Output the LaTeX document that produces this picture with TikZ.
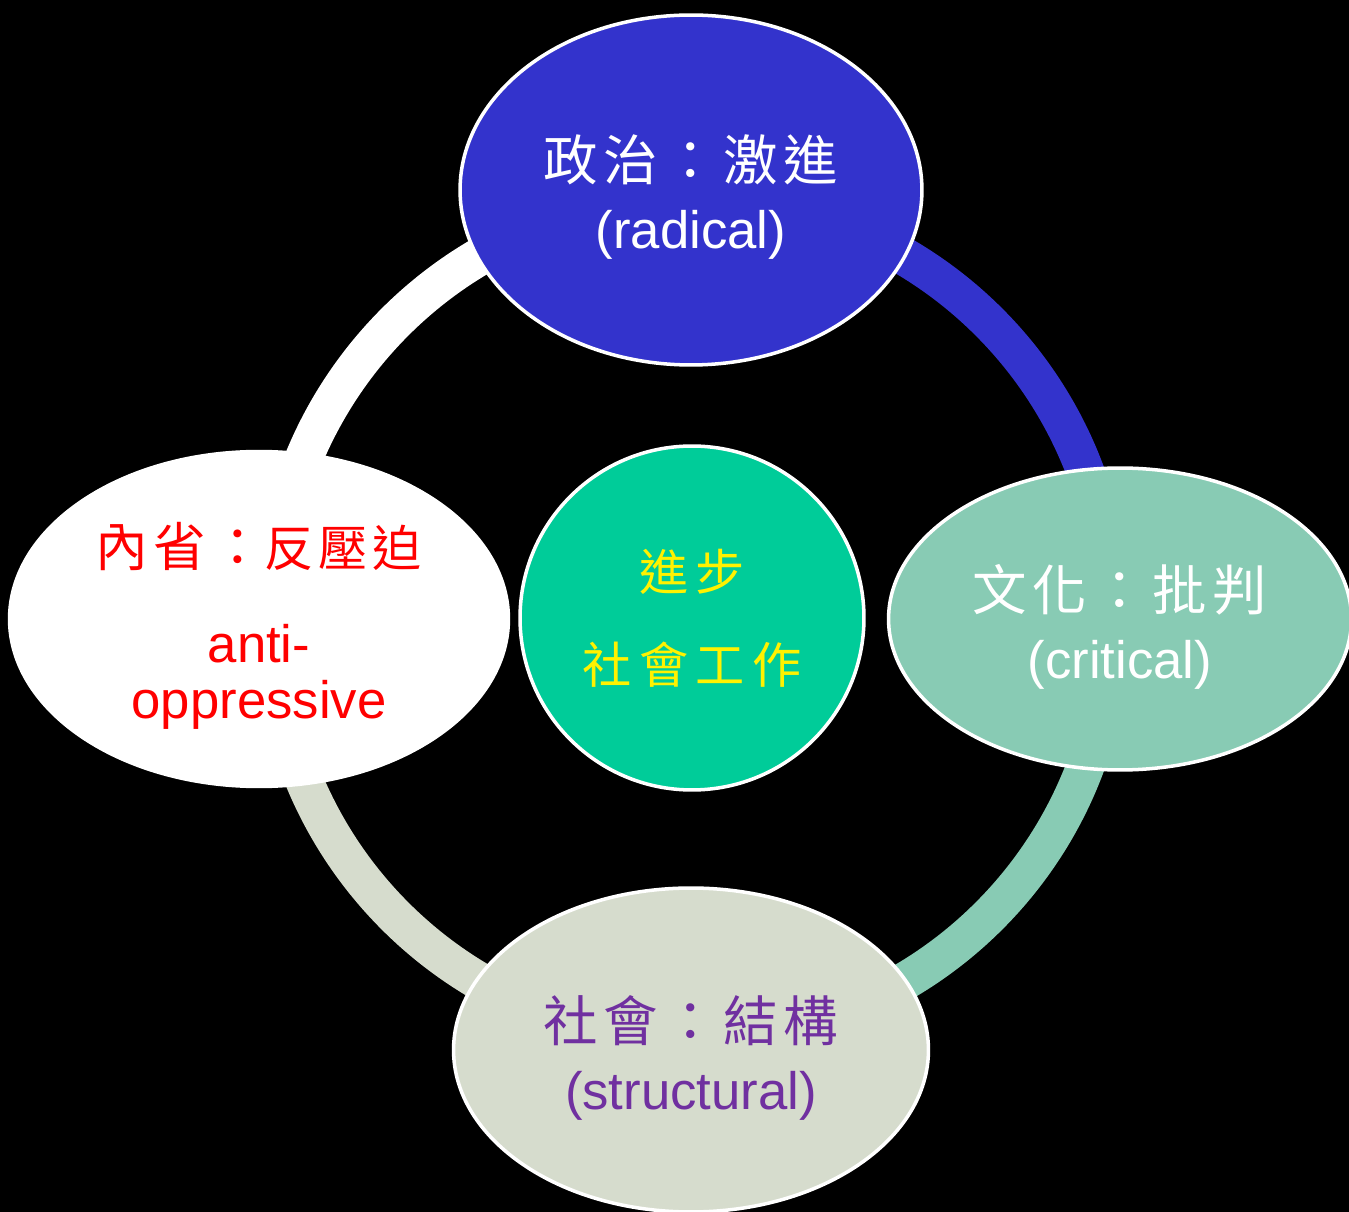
\documentclass[tikz,border=0pt]{standalone}
\usepackage{fontspec}
\setmainfont{Liberation Sans}
\newfontfamily\cjk[LetterSpace=10]{Noto Sans CJK TC}
\newfontfamily\cjkhub[LetterSpace=15]{Noto Sans CJK TC}
\usetikzlibrary{shapes.geometric}
\definecolor{polblue}{HTML}{3333CC}
\definecolor{culteal}{HTML}{88CBB4}
\definecolor{socgrey}{HTML}{D6DCCD}
\definecolor{coregreen}{HTML}{00CC99}
\definecolor{strpurple}{HTML}{7030A0}

\begin{document}
\begin{tikzpicture}[
		x=0.02cm, y=0.02cm,
		lens/.style = {draw=white, line width=2pt, ellipse, inner sep=0pt, align=center,
			font=\fontsize{30}{33}\selectfont},
		hubstyle/.style = {draw=white, line width=2pt, circle, inner sep=0pt, align=center,
			minimum size=6.88cm, fill=coregreen, text=yellow, font=\cjkhub\fontsize{28}{33}\selectfont},
		ring/.style = {line width=0.76cm},
		]
		\fill[black] (0,0) rectangle (1349,-1212);
		\useasboundingbox (0,0) rectangle (1349,-1212);
		\coordinate (ctr) at (692,-619);
		% ring behind the ellipses
		\foreach \a/\c in {90/polblue, 0/culteal, -90/socgrey, 180/white}
			\draw[ring, \c] (ctr) ++(\a:420) arc[start angle=\a, delta angle=-90, radius=8.4cm];
		\node[lens, fill=polblue, text=white, minimum width=9.24cm, minimum height=7cm] (pol) at (691,-190)
			{\rule{0pt}{34pt}{\cjk\fontsize{31}{33}\selectfont 政治：激進}\\[6pt](radical)};
		\node[lens, fill=culteal, text=white, minimum width=9.26cm, minimum height=6.04cm] (cul) at (1120,-619)
			{\rule{0pt}{35pt}{\cjk\fontsize{31}{33}\selectfont 文化：批判}\\[6pt](critical)};
		\node[lens, fill=socgrey, text=strpurple, minimum width=9.5cm, minimum height=6.48cm] (soc) at (691,-1050)
			{\rule{0pt}{35pt}{\cjk\fontsize{31}{33}\selectfont 社會：結構}\\[6pt](structural)};
		\node[lens, fill=white, text=red, minimum width=9.98cm, minimum height=6.7cm,
			font=\fontsize{30}{32}\selectfont] (self) at (259,-619)
			{\rule{0pt}{33pt}{\cjk\fontsize{30}{32}\selectfont 內省：\fontsize{28}{32}\selectfont 反壓迫}\\[23pt]anti-\\oppressive};
		\node[hubstyle] (core) at (692,-618) {進步\\[20pt]社會工作};
\end{tikzpicture}
\end{document}
